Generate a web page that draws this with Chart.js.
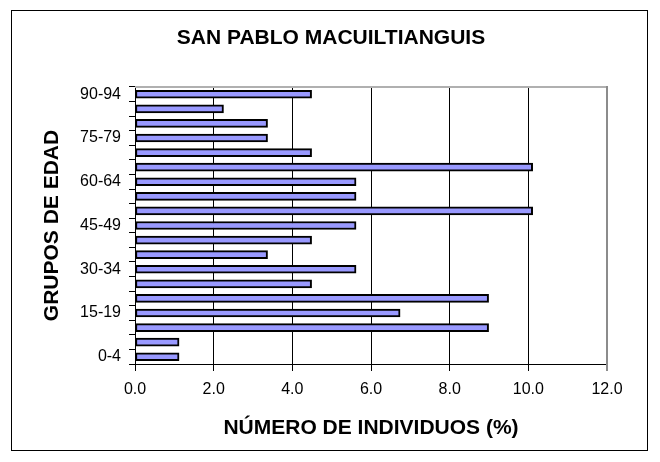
<!DOCTYPE html>
<html>
<head>
<meta charset="utf-8">
<script src="https://cdn.jsdelivr.net/npm/chart.js@4.4.1/dist/chart.umd.min.js"></script>
<style>
    html, body { margin: 0; padding: 0; background: #fff; }
    #wrap { width: 660px; height: 462px; }
</style>
</head>
<body>
<div id="wrap"><canvas id="grafica" width="660" height="462"></canvas></div>
<script>
// grupos de edad (de abajo hacia arriba)
const grupos = ['0-4', '5-9', '10-14', '15-19', '20-24', '25-29', '30-34', '35-39', '40-44', '45-49',
    '50-54', '55-59', '60-64', '65-69', '70-74', '75-79', '80-84', '85-89', '90-94'];
// porcentaje de individuos por grupo
const porcentajes = [1.12, 1.12, 8.99, 6.74, 8.99, 4.49, 5.62, 3.37, 4.49, 5.62,
    10.11, 5.62, 5.62, 10.11, 4.49, 3.37, 3.37, 2.25, 4.49];
// marcas del eje x
const marcasX = [0, 2, 4, 6, 8, 10, 12];

const titulo = 'SAN PABLO MACUILTIANGUIS';
const fuente = "'Liberation Sans', Arial, sans-serif";

// titulo, marco exterior y bordes del area de trazado
const marco = {
    id: 'marco',
    beforeDatasetsDraw(chart) {
        const { ctx, chartArea: a } = chart;
        ctx.save();
        ctx.lineWidth = 2;
        ctx.strokeStyle = '#b0b0b0';
        ctx.beginPath();
        ctx.moveTo(a.left, a.top);
        ctx.lineTo(a.right, a.top);
        ctx.stroke();
        ctx.strokeStyle = '#8c8c8c';
        ctx.beginPath();
        ctx.moveTo(a.right, a.top - 1);
        ctx.lineTo(a.right, a.bottom + 7);
        ctx.stroke();
        ctx.restore();
    },
    afterDraw(chart) {
        const ctx = chart.ctx;
        ctx.save();
        ctx.strokeStyle = '#000';
        ctx.lineWidth = 1;
        ctx.strokeRect(11.5, 10.5, 636, 440);
        ctx.fillStyle = '#000';
        ctx.font = 'bold 21px ' + fuente;
        ctx.textAlign = 'center';
        ctx.textBaseline = 'middle';
        ctx.fillText(titulo, 331, 38);
        ctx.restore();
    }
};

new Chart(document.getElementById('grafica'), {
    type: 'bar',
    data: {
        labels: grupos,
        datasets: [{
            data: porcentajes,
            backgroundColor: '#9999ff',
            borderColor: '#000',
            borderWidth: 2,
            borderSkipped: false,
            barThickness: 8
        }]
    },
    options: {
        indexAxis: 'y',
        responsive: false,
        animation: false,
        layout: { padding: { left: 0, right: 53, top: 87, bottom: 0 } },
        plugins: {
            legend: { display: false },
            tooltip: { enabled: false }
        },
        scales: {
            x: {
                min: 0,
                max: 12,
                afterBuildTicks(scale) {
                    scale.ticks = marcasX.map(v => ({ value: v }));
                },
                afterFit(scale) { scale.height = 98; },
                ticks: {
                    color: '#000',
                    font: { family: fuente, size: 16 },
                    padding: 9,
                    maxRotation: 0,
                    callback: v => v.toFixed(1)
                },
                grid: {
                    color: ctx => ctx.tick && ctx.tick.value === 12 ? 'rgba(0,0,0,0)' : '#000',
                    tickColor: ctx => ctx.tick && ctx.tick.value === 12 ? '#8c8c8c' : '#000',
                    tickLength: 7
                },
                border: { color: '#000', width: 1 },
                title: {
                    display: true,
                    text: 'NÚMERO DE INDIVIDUOS (%)',
                    color: '#000',
                    font: { family: fuente, size: 21, weight: 'bold' },
                    padding: { top: 0, bottom: 21 }
                }
            },
            y: {
                reverse: true,
                afterFit(scale) { scale.width = 135; },
                ticks: {
                    autoSkip: false,
                    color: '#000',
                    font: { family: fuente, size: 16 },
                    padding: 8,
                    callback: (v, i) => i % 3 === 0 ? grupos[i] : ''
                },
                grid: {
                    drawOnChartArea: false,
                    offset: true,
                    tickColor: '#000',
                    tickLength: 6
                },
                border: { color: '#000', width: 1 },
                title: {
                    display: true,
                    text: 'GRUPOS DE EDAD',
                    color: '#000',
                    font: { family: fuente, size: 21, weight: 'bold' },
                    padding: { top: 40, bottom: 0 }
                }
            }
        }
    },
    plugins: [marco]
});
</script>
</body>
</html>
